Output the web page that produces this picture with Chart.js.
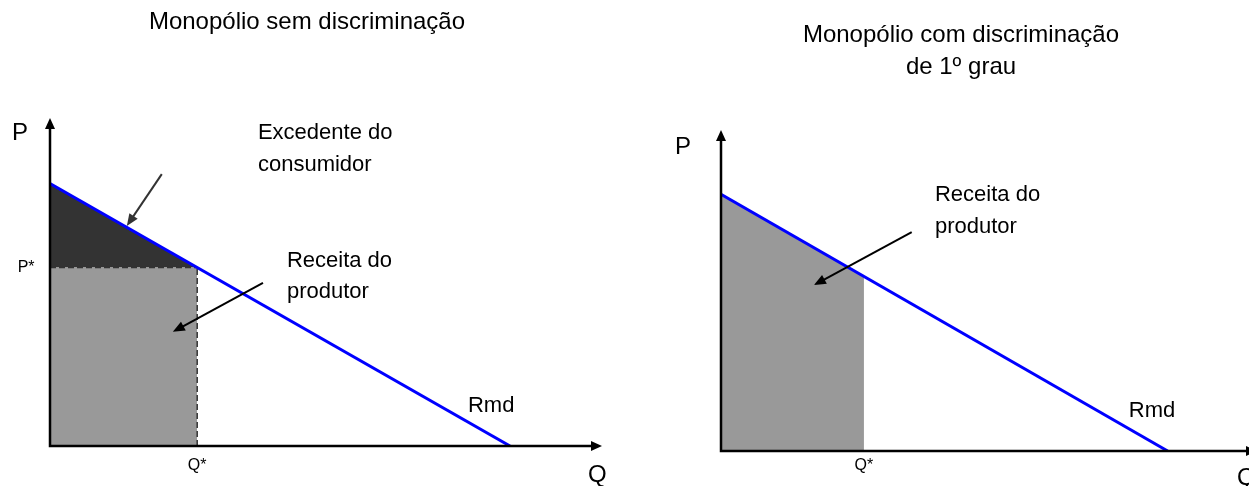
<!DOCTYPE html>
<html>
<head>
<meta charset="utf-8">
<script src="https://cdn.jsdelivr.net/npm/chart.js@4"></script>
<style>
html, body { margin: 0; padding: 0; background: #fff; overflow: hidden; width: 1249px; height: 486px; }
#esquerda { position: absolute; left: 0; top: 0; }
#direita { position: absolute; left: 624px; top: 0; }
</style>
</head>
<body>
<canvas id="esquerda" width="624" height="486"></canvas>
<canvas id="direita" width="650" height="486"></canvas>
<script>
// curva de demanda (Rmd): quantidades e preços dos extremos
const demandaQ = [0, 10];
const demandaP = [8, 0];
// equilíbrio do monopólio
const qEstrela = 3.2;
const pEstrela = 5.44;
// limites dos eixos
const qMax = 12;
const pMax = 10;

const fonte = '"Liberation Sans", Arial, sans-serif';
const demanda = demandaQ.map((q, i) => ({ x: q, y: demandaP[i] }));

// desenha eixos com setas, textos e setas de anotação
function criarAnotacoes(cfg) {
    return {
        id: 'anotacoes',
        afterDraw(chart) {
            const { ctx, chartArea: a, scales: { x, y } } = chart;
            ctx.save();
            // eixos
            ctx.strokeStyle = '#000';
            ctx.fillStyle = '#000';
            ctx.lineWidth = 2.5;
            ctx.beginPath();
            ctx.moveTo(a.left, a.top + 8);
            ctx.lineTo(a.left, a.bottom);
            ctx.lineTo(a.right - 8, a.bottom);
            ctx.stroke();
            ponta(ctx, a.left, a.bottom, a.left, a.top, 11, 5);
            ponta(ctx, a.left, a.bottom, a.right, a.bottom, 11, 5);
            // setas
            cfg.setas.forEach(s => {
                const x1 = x.getPixelForValue(s.de[0]), y1 = y.getPixelForValue(s.de[1]);
                const x2 = x.getPixelForValue(s.para[0]), y2 = y.getPixelForValue(s.para[1]);
                ctx.strokeStyle = s.cor;
                ctx.fillStyle = s.cor;
                ctx.lineWidth = 2;
                const ang = Math.atan2(y2 - y1, x2 - x1);
                ctx.beginPath();
                ctx.moveTo(x1, y1);
                ctx.lineTo(x2 - 10 * Math.cos(ang), y2 - 10 * Math.sin(ang));
                ctx.stroke();
                ponta(ctx, x1, y1, x2, y2, 12, 5);
            });
            // textos
            ctx.fillStyle = '#000';
            ctx.textBaseline = 'middle';
            cfg.textos.forEach(t => {
                ctx.font = (t.tam || 22) + 'px ' + fonte;
                ctx.textAlign = t.alinhar || 'center';
                ctx.fillText(t.texto, x.getPixelForValue(t.q), y.getPixelForValue(t.p));
            });
            // títulos
            ctx.font = '24px ' + fonte;
            ctx.textAlign = 'center';
            cfg.titulo.forEach(t => ctx.fillText(t.texto, t.x, t.y));
            ctx.restore();
        }
    };
}

function ponta(ctx, x1, y1, x2, y2, comp, larg) {
    const ang = Math.atan2(y2 - y1, x2 - x1);
    ctx.beginPath();
    ctx.moveTo(x2, y2);
    ctx.lineTo(x2 - comp * Math.cos(ang) + larg * Math.sin(ang), y2 - comp * Math.sin(ang) - larg * Math.cos(ang));
    ctx.lineTo(x2 - comp * Math.cos(ang) - larg * Math.sin(ang), y2 - comp * Math.sin(ang) + larg * Math.cos(ang));
    ctx.closePath();
    ctx.fill();
}

function opcoes(padding) {
    return {
        responsive: false,
        animation: false,
        events: [],
        layout: { padding: padding },
        elements: { point: { radius: 0 }, line: { tension: 0 } },
        plugins: { legend: { display: false }, tooltip: { enabled: false } },
        scales: {
            x: { type: 'linear', min: 0, max: qMax, display: false },
            y: { type: 'linear', min: 0, max: pMax, display: false }
        }
    };
}

// Monopólio sem discriminação
new Chart(document.getElementById('esquerda'), {
    type: 'line',
    data: {
        datasets: [
            {
                label: 'Rmd',
                data: demanda,
                borderColor: '#0000ff',
                borderWidth: 3,
                fill: false,
                order: 0
            },
            {
                label: 'Q*',
                data: [{ x: qEstrela, y: 0 }, { x: qEstrela, y: pEstrela }],
                borderColor: '#333',
                borderWidth: 1.5,
                borderDash: [6, 3],
                fill: false,
                order: 1
            },
            {
                label: 'Receita do produtor',
                data: [{ x: 0, y: pEstrela }, { x: qEstrela, y: pEstrela }],
                borderColor: '#333',
                borderWidth: 1.5,
                borderDash: [6, 3],
                backgroundColor: '#999999',
                fill: 'origin',
                order: 2
            },
            {
                label: 'Excedente do consumidor',
                data: [{ x: 0, y: demandaP[0] }, { x: qEstrela, y: pEstrela }],
                borderWidth: 0,
                backgroundColor: '#333333',
                fill: { value: pEstrela },
                order: 3
            }
        ]
    },
    options: opcoes({ left: 50, right: 22, top: 118, bottom: 40 }),
    plugins: [criarAnotacoes({
        titulo: [{ texto: 'Monopólio sem discriminação', x: 307, y: 22 }],
        textos: [
            { texto: 'P', q: -0.65, p: 9.54, tam: 24 },
            { texto: 'P*', q: -0.52, p: pEstrela, tam: 16 },
            { texto: 'Q*', q: qEstrela, p: -0.6, tam: 16 },
            { texto: 'Q', q: 11.9, p: -0.91, tam: 24 },
            { texto: 'Rmd', q: 9.59, p: 1.22 },
            { texto: 'Excedente do', q: 4.52, p: 9.54, alinhar: 'left' },
            { texto: 'consumidor', q: 4.52, p: 8.57, alinhar: 'left' },
            { texto: 'Receita do', q: 5.15, p: 5.64, alinhar: 'left' },
            { texto: 'produtor', q: 5.15, p: 4.70, alinhar: 'left' }
        ],
        setas: [
            { de: [2.43, 8.29], para: [1.67, 6.71], cor: '#333' },
            { de: [4.63, 4.97], para: [2.67, 3.48], cor: '#000' }
        ]
    })]
});

// Monopólio com discriminação de 1º grau
new Chart(document.getElementById('direita'), {
    type: 'line',
    data: {
        datasets: [
            {
                label: 'Rmd',
                data: demanda,
                borderColor: '#0000ff',
                borderWidth: 3,
                fill: false,
                order: 0
            },
            {
                label: 'Receita do produtor',
                data: [{ x: 0, y: demandaP[0] }, { x: qEstrela, y: pEstrela }],
                borderWidth: 0,
                backgroundColor: '#999999',
                fill: 'origin',
                order: 1
            }
        ]
    },
    options: opcoes({ left: 97, right: 17, top: 130, bottom: 35 }),
    plugins: [criarAnotacoes({
        titulo: [
            { texto: 'Monopólio com discriminação', x: 337, y: 35 },
            { texto: 'de 1º grau', x: 337, y: 67 }
        ],
        textos: [
            { texto: 'P', q: -0.85, p: 9.47, tam: 24 },
            { texto: 'Q*', q: qEstrela, p: -0.47, tam: 16 },
            { texto: 'Q', q: 11.76, p: -0.84, tam: 24 },
            { texto: 'Rmd', q: 9.65, p: 1.25 },
            { texto: 'Receita do', q: 4.79, p: 7.98, alinhar: 'left' },
            { texto: 'produtor', q: 4.79, p: 6.98, alinhar: 'left' }
        ],
        setas: [
            { de: [4.27, 6.82], para: [2.08, 5.17], cor: '#000' }
        ]
    })]
});
</script>
</body>
</html>
